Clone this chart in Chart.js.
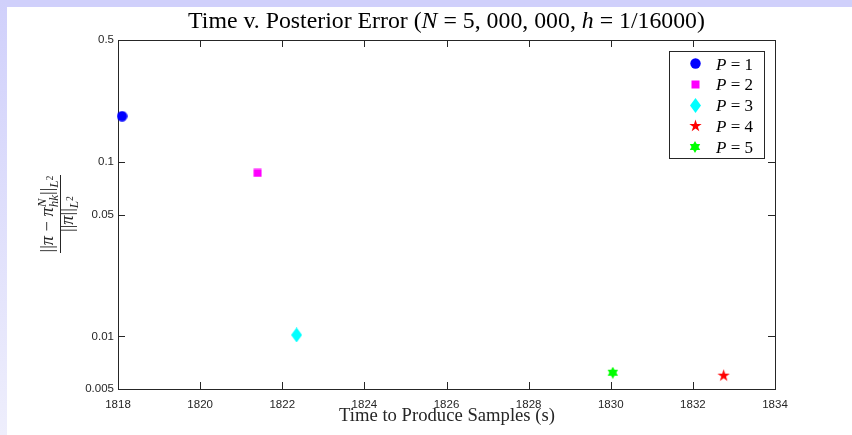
<!DOCTYPE html>
<html>
<head>
<meta charset="utf-8">
<script src="https://cdn.jsdelivr.net/npm/chart.js@4.4.0/dist/chart.umd.min.js"></script>
<style>
  html, body { margin: 0; padding: 0; }
  body { width: 852px; height: 435px; position: relative; overflow: hidden; background: #fff; }
  #topband { position: absolute; left: 0; top: 0; width: 852px; height: 7px; background: #d0d0fb; }
  #leftband { position: absolute; left: 0; top: 0; width: 7px; height: 435px; background: linear-gradient(#d0d0fb, #eeeefc); }
  #chart { position: absolute; left: 0; top: 0; }
</style>
</head>
<body>
<div id="topband"></div>
<div id="leftband"></div>
<canvas id="chart" width="852" height="435"></canvas>
<script>
// values
const seriesLabels = ['P = 1', 'P = 2', 'P = 3', 'P = 4', 'P = 5'];
const procCounts = ['1', '2', '3', '4', '5'];
const timeSeconds = [1818.1, 1821.4, 1822.35, 1832.75, 1830.05];
const relError = [0.183, 0.0865, 0.0102, 0.0060, 0.0062];
const markerColors = ['#0000ff', '#ff00ff', '#00ffff', '#ff0000', '#00ff00'];
const markerShapes = ['circle', 'square', 'diamond', 'pentagram', 'hexagram'];
const xTickValues = [1818, 1820, 1822, 1824, 1826, 1828, 1830, 1832, 1834];
const xTickLabels = ['1818', '1820', '1822', '1824', '1826', '1828', '1830', '1832', '1834'];
const yTickValues = [0.005, 0.01, 0.05, 0.1, 0.5];
const yTickLabels = ['0.005', '0.01', '0.05', '0.1', '0.5'];

const SERIF = "'Liberation Serif', 'DejaVu Serif', serif";
const SANS = "'Liberation Sans', Arial, sans-serif";
const AXIS_COLOR = '#262626';

// MATLAB-like marker glyphs as small canvases (used as pointStyle)
function starPath(g, cx, cy, n, rOut, rIn) {
    for (let i = 0; i < 2 * n; i++) {
        const a = -Math.PI / 2 + i * Math.PI / n;
        const r = i % 2 === 0 ? rOut : rIn;
        const px = cx + r * Math.cos(a), py = cy + r * Math.sin(a);
        if (i === 0) g.moveTo(px, py); else g.lineTo(px, py);
    }
}

function makeMarker(shape, color) {
    const sizes = { circle: [11, 11], square: [9, 9], diamond: [11, 15], pentagram: [13, 13], hexagram: [12, 12] };
    const [w, h] = sizes[shape];
    const c = document.createElement('canvas');
    c.width = w; c.height = h;
    const g = c.getContext('2d');
    const cx = w / 2, cy = h / 2;
    g.fillStyle = color;
    g.beginPath();
    if (shape === 'circle') g.arc(cx, cy, w / 2 - 0.3, 0, Math.PI * 2);
    else if (shape === 'square') g.rect(0.5, 0.5, w - 1, h - 1);
    else if (shape === 'diamond') { g.moveTo(cx, 0); g.lineTo(w, cy); g.lineTo(cx, h); g.lineTo(0, cy); }
    else if (shape === 'pentagram') starPath(g, cx, cy + 0.5, 5, w / 2, w / 2 * 0.382);
    else starPath(g, cx, cy, 6, w / 2, w / 2 * 0.577);
    g.closePath();
    g.fill();
    return c;
}

const markerImgs = markerShapes.map((s, i) => makeMarker(s, markerColors[i]));

// simple rich text: segments with italic / size / vertical shift; 'hold' stacks next segment on top
function drawRich(ctx, segs, x, y, draw, k) {
    k = k || 1;
    let cx = x, held = 0;
    segs.forEach(s => {
        ctx.font = (s.italic ? 'italic ' : '') + (s.size * k) + 'px ' + SERIF;
        const w = ctx.measureText(s.t).width;
        if (draw) ctx.fillText(s.t, cx, y + (s.dy || 0) * k);
        if (s.hold) { held = w; } else { cx += Math.max(w, held); held = 0; }
    });
    return cx - x;
}

function titleSegs(size) {
    return [
        { t: 'Time v. Posterior Error (', size },
        { t: 'N', italic: true, size },
        { t: ' = 5, 000, 000, ', size },
        { t: 'h', italic: true, size },
        { t: ' = 1/16000)', size }
    ];
}

const numSegs = [
    { t: '||', size: 14 },
    { t: '\u03c0', italic: true, size: 14 },
    { t: ' \u2212 ', size: 14 },
    { t: '\u03c0', italic: true, size: 14 },
    { t: 'N', italic: true, size: 10, dy: -5, hold: true },
    { t: 'hk', italic: true, size: 10, dy: 4 },
    { t: '||', size: 14 },
    { t: 'L', italic: true, size: 10, dy: 4 },
    { t: '2', size: 7.5, dy: 0 }
];
const denSegs = [
    { t: '||', size: 14 },
    { t: '\u03c0', italic: true, size: 14 },
    { t: '||', size: 14 },
    { t: 'L', italic: true, size: 10, dy: 4 },
    { t: '2', size: 7.5, dy: 0 }
];

const decorations = {
    id: 'decorations',
    beforeDatasetsDraw(chart) {
        const { ctx, chartArea: a, scales } = chart;
        ctx.save();
        ctx.strokeStyle = AXIS_COLOR;
        ctx.lineWidth = 1;
        ctx.strokeRect(a.left + 0.5, a.top + 0.5, a.right - a.left, a.bottom - a.top);
        ctx.beginPath();
        const tl = 7;
        scales.x.ticks.forEach(t => {
            const px = Math.round(scales.x.getPixelForValue(t.value)) + 0.5;
            ctx.moveTo(px, a.bottom); ctx.lineTo(px, a.bottom - tl);
            ctx.moveTo(px, a.top); ctx.lineTo(px, a.top + tl);
        });
        scales.y.ticks.forEach(t => {
            const py = Math.round(scales.y.getPixelForValue(t.value)) + 0.5;
            ctx.moveTo(a.left, py); ctx.lineTo(a.left + tl, py);
            ctx.moveTo(a.right, py); ctx.lineTo(a.right - tl, py);
        });
        ctx.stroke();
        ctx.restore();
    },
    afterDraw(chart) {
        const { ctx } = chart;
        ctx.save();
        ctx.textBaseline = 'alphabetic';
        ctx.textAlign = 'left';

        // title, fitted to the reference width
        ctx.fillStyle = '#000';
        const tw20 = drawRich(ctx, titleSegs(20), 0, 0, false);
        const tSize = 20 * 517 / tw20;
        const tw = drawRich(ctx, titleSegs(tSize), 0, 0, false);
        drawRich(ctx, titleSegs(tSize), 446.5 - tw / 2, 28, true);

        // x axis label
        ctx.fillStyle = AXIS_COLOR;
        const xl = 'Time to Produce Samples (s)';
        ctx.font = '16px ' + SERIF;
        const xs = 16 * 216 / ctx.measureText(xl).width;
        ctx.font = xs + 'px ' + SERIF;
        ctx.fillText(xl, 447 - ctx.measureText(xl).width / 2, 421);

        // y axis label: ||pi - pi^N_hk||_{L^2} / ||pi||_{L^2}
        ctx.save();
        ctx.translate(60.5, 214);
        ctx.rotate(-Math.PI / 2);
        ctx.fillRect(-39, -0.5, 78, 1);
        const k = 77 / drawRich(ctx, numSegs, 0, 0, false, 1);
        const nw = drawRich(ctx, numSegs, 0, 0, false, k);
        drawRich(ctx, numSegs, -nw / 2, -8, true, k);
        const dw = drawRich(ctx, denSegs, 0, 0, false, k);
        drawRich(ctx, denSegs, -dw / 2, 12.5, true, k);
        ctx.restore();

        // legend
        const lx = 669, ly = 51, lw = 95, lh = 107;
        ctx.fillStyle = '#fff';
        ctx.fillRect(lx, ly, lw, lh);
        ctx.strokeStyle = AXIS_COLOR;
        ctx.lineWidth = 1;
        ctx.strokeRect(lx + 0.5, ly + 0.5, lw, lh);
        procCounts.forEach((p, i) => {
            const cy = 63.5 + i * 20.8;
            const img = markerImgs[i];
            ctx.drawImage(img, Math.round(695 - img.width / 2), Math.round(cy - img.height / 2));
            ctx.fillStyle = '#000';
            drawRich(ctx, [
                { t: 'P', italic: true, size: 17 },
                { t: ' = ' + p, size: 17 }
            ], 716, cy + 6, true);
        });
        ctx.restore();
    }
};

const datasets = seriesLabels.map((label, i) => ({
    label,
    data: [{ x: timeSeconds[i], y: relError[i] }],
    pointStyle: markerImgs[i],
    pointRadius: 6,
    showLine: false,
    clip: false
}));

new Chart(document.getElementById('chart'), {
    type: 'scatter',
    data: { datasets },
    options: {
        responsive: false,
        animation: false,
        devicePixelRatio: 1,
        layout: { padding: { left: 0, top: 40, right: 77, bottom: 0 } },
        plugins: { legend: { display: false }, tooltip: { enabled: false } },
        scales: {
            x: {
                type: 'linear',
                min: 1818,
                max: 1834,
                afterBuildTicks: s => { s.ticks = xTickValues.map(v => ({ value: v })); },
                afterFit: s => { s.height = 46; },
                grid: { display: false, drawTicks: false },
                border: { display: false },
                ticks: {
                    color: AXIS_COLOR,
                    font: { family: SANS, size: 11.5 },
                    padding: 9,
                    maxRotation: 0,
                    autoSkip: false,
                    callback: v => {
                        const i = xTickValues.indexOf(v);
                        return i >= 0 ? xTickLabels[i] : '';
                    }
                }
            },
            y: {
                type: 'logarithmic',
                min: 0.005,
                max: 0.5,
                afterBuildTicks: s => { s.ticks = yTickValues.map(v => ({ value: v })); },
                afterFit: s => { s.width = 118; },
                grid: { display: false, drawTicks: false },
                border: { display: false },
                ticks: {
                    color: AXIS_COLOR,
                    font: { family: SANS, size: 11.5 },
                    padding: 4,
                    autoSkip: false,
                    callback: v => {
                        const i = yTickValues.indexOf(v);
                        return i >= 0 ? yTickLabels[i] : '';
                    }
                }
            }
        }
    },
    plugins: [decorations]
});
</script>
</body>
</html>
